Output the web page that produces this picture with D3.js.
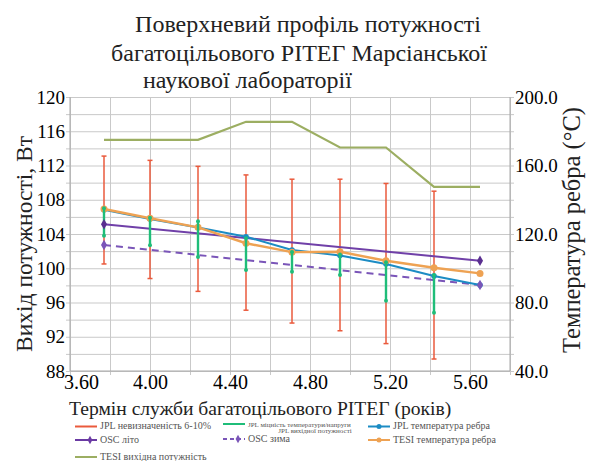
<!DOCTYPE html>
<html>
<head>
<meta charset="utf-8">
<script src="https://cdn.jsdelivr.net/npm/d3@7"></script>
<style>
  body { margin: 0; background: #fff; }
</style>
</head>
<body>
<svg id="chart"></svg>
<script>
// years on the x axis (service life)
const years = [3.77, 4.00, 4.24, 4.48, 4.71, 4.95, 5.18, 5.42, 5.65];

// JPL uncertainty 6-10% (power, W) - red bars
const jplUncLow  = [100.5, 98.8, 97.3, 95.1, 93.6, 92.7, 91.2, 89.4];
const jplUncHigh = [113.1, 112.6, 111.9, 110.9, 110.4, 110.4, 109.9, 109.0];

// JPL temperature/load sensitivity (power, W) - green bars
const jplSensLow  = [103.8, 102.7, 101.3, 99.8, 99.6, 99.2, 96.2, 94.8];
const jplSensHigh = [107.0, 105.9, 105.5, 103.5, 101.9, 101.6, 100.7, 99.2];

// fin temperatures (°C, right axis)
const jplFinTemp  = [134.2, 128.8, 123.8, 118.4, 110.7, 107.5, 102.5, 95.5, 90.2];
const tesiFinTemp = [134.6, 129.2, 123.9, 114.6, 109.4, 109.6, 104.4, 100.3, 97.0];
const oscSummerYears = [3.77, 5.65];
const oscSummer = [125.7, 104.4];
const oscWinterYears = [3.77, 5.65];
const oscWinter = [113.6, 90.2];

// TESI output power (W, left axis)
const tesiPower = [115.0, 115.0, 115.0, 117.1, 117.1, 114.1, 114.1, 109.5, 109.5];

// tick labels
const xTicks = [3.6, 4.0, 4.4, 4.8, 5.2, 5.6];
const yLeftTicks = [88, 92, 96, 100, 104, 108, 112, 116, 120];
const yRightTicks = [40, 80, 120, 160, 200];

const titleLines = ["Поверхневий профіль потужності", "багатоцільового  РІТЕГ Марсіанської", "наукової лабораторії"];

let w = 590;
let h = 461;
let chart;
let xScale, yLeft, yRight;
const serif = '"Liberation Serif"';

function initGraph() {
    chart = d3.select("#chart")
        .attr("width", w)
        .attr("height", h);

    xScale = d3.scaleLinear().domain([3.6, 5.8]).range([70, 510]);
    yLeft = d3.scaleLinear().domain([88, 120]).range([371, 97]);
    yRight = d3.scaleLinear().domain([40, 200]).range([371, 97]);

    //title
    const title = chart.append("g").attr("font-size", "24px");
    title.append("text").attr("x", 308).attr("y", 32).attr("text-anchor", "middle").text(titleLines[0]);
    title.append("text").attr("x", 299).attr("y", 61).attr("text-anchor", "middle").text(titleLines[1]);
    title.append("text").attr("x", 143).attr("y", 88).attr("text-anchor", "start").text(titleLines[2]);

    //grid lines
    const gridY = chart.append("g")
        .attr("transform", "translate(70,0)")
        .call(d3.axisLeft(yLeft).tickValues(d3.range(88, 121, 2)).tickSize(-444).tickFormat(""));
    gridY.selectAll(".tick line").attr("x1", -4).attr("x2", 444).attr("stroke", "#c9c9c9");
    gridY.select(".domain").remove();

    const gridX = chart.append("g")
        .attr("transform", "translate(0,371)")
        .call(d3.axisBottom(xScale).tickValues(d3.range(0, 12).map(i => 3.6 + i * 0.2)).tickSize(-274).tickFormat(""));
    gridX.selectAll(".tick line").attr("y1", 4).attr("y2", -274).attr("stroke", "#c9c9c9");
    gridX.select(".domain").remove();

    //axis lines
    chart.append("line").attr("x1", 70).attr("x2", 70).attr("y1", 97).attr("y2", 371).attr("stroke", "#a8a8a8");
    chart.append("line").attr("x1", 510).attr("x2", 510).attr("y1", 97).attr("y2", 371).attr("stroke", "#a8a8a8");
    chart.append("line").attr("x1", 70).attr("x2", 510).attr("y1", 371).attr("y2", 371).attr("stroke", "#a8a8a8");

    //tick labels
    const leftAxis = chart.append("g")
        .attr("transform", "translate(70,0)")
        .call(d3.axisLeft(yLeft).tickValues(yLeftTicks).tickSize(0).tickPadding(5).tickFormat(d3.format("d")));
    leftAxis.attr("font-size", "19px");
    leftAxis.select(".domain").remove();

    const rightAxis = chart.append("g")
        .attr("transform", "translate(510,0)")
        .call(d3.axisRight(yRight).tickValues(yRightTicks).tickSize(0).tickPadding(5).tickFormat(d3.format(".1f")));
    rightAxis.attr("font-size", "19px");
    rightAxis.select(".domain").remove();

    const bottomAxis = chart.append("g")
        .attr("transform", "translate(0,371)")
        .call(d3.axisBottom(xScale).tickValues(xTicks).tickSize(0).tickPadding(4).tickFormat(d3.format(".2f")));
    bottomAxis.attr("font-size", "20px");
    bottomAxis.select(".domain").remove();
    bottomAxis.selectAll("text").attr("dx", (d, i) => i === 0 ? 11 : 0);

    //axis titles
    chart.append("text")
        .attr("transform", "translate(32,244) rotate(-90)")
        .attr("text-anchor", "middle").attr("font-size", "23.5px")
        .text("Вихід потужності, Вт");
    chart.append("text")
        .attr("transform", "translate(580,230) rotate(-90)")
        .attr("text-anchor", "middle").attr("font-size", "24.5px")
        .text("Температура ребра (°С)");
    chart.append("text")
        .attr("x", 69).attr("y", 415)
        .attr("font-size", "19.6px")
        .text("Термін служби багатоцільового РІТЕГ (років)");

    //TESI output power
    const lineLeft = d3.line().x((d) => xScale(d[0])).y((d) => yLeft(d[1]));
    const lineRight = d3.line().x((d) => xScale(d[0])).y((d) => yRight(d[1]));

    chart.append("path")
        .datum(d3.zip(years, tesiPower))
        .attr("d", lineLeft)
        .attr("fill", "none").attr("stroke", "#9cae62").attr("stroke-width", 2.2);

    //red uncertainty bars
    const red = chart.append("g").attr("stroke", "#ea5a3c").attr("stroke-width", 1.5);
    red.selectAll("line.bar").data(jplUncLow).enter().append("line")
        .attr("x1", (d, i) => xScale(years[i])).attr("x2", (d, i) => xScale(years[i]))
        .attr("y1", (d) => yLeft(d)).attr("y2", (d, i) => yLeft(jplUncHigh[i]));
    red.selectAll("line.lo").data(jplUncLow).enter().append("line")
        .attr("x1", (d, i) => xScale(years[i]) - 2.5).attr("x2", (d, i) => xScale(years[i]) + 2.5)
        .attr("y1", (d) => yLeft(d)).attr("y2", (d) => yLeft(d));
    red.selectAll("line.hi").data(jplUncHigh).enter().append("line")
        .attr("x1", (d, i) => xScale(years[i]) - 2.5).attr("x2", (d, i) => xScale(years[i]) + 2.5)
        .attr("y1", (d) => yLeft(d)).attr("y2", (d) => yLeft(d));

    //OSC summer / winter
    chart.append("path")
        .datum(d3.zip(oscSummerYears, oscSummer))
        .attr("d", lineRight)
        .attr("fill", "none").attr("stroke", "#7040a8").attr("stroke-width", 2);
    chart.append("path")
        .datum(d3.zip(oscWinterYears, oscWinter))
        .attr("d", lineRight)
        .attr("fill", "none").attr("stroke", "#7a55b8").attr("stroke-width", 2)
        .attr("stroke-dasharray", "7,5");

    //JPL fin temperature
    chart.append("path")
        .datum(d3.zip(years, jplFinTemp))
        .attr("d", lineRight)
        .attr("fill", "none").attr("stroke", "#1c8cc4").attr("stroke-width", 2);
    chart.append("g").selectAll("circle").data(jplFinTemp).enter().append("circle")
        .attr("cx", (d, i) => xScale(years[i])).attr("cy", (d) => yRight(d))
        .attr("r", 2.8).attr("fill", "#1c8cc4");

    //TESI fin temperature
    chart.append("path")
        .datum(d3.zip(years, tesiFinTemp))
        .attr("d", lineRight)
        .attr("fill", "none").attr("stroke", "#eea253").attr("stroke-width", 2.4);
    chart.append("g").selectAll("circle").data(tesiFinTemp).enter().append("circle")
        .attr("cx", (d, i) => xScale(years[i])).attr("cy", (d) => yRight(d))
        .attr("r", 3.5).attr("fill", "#eea253");

    //green sensitivity bars
    const green = chart.append("g");
    green.selectAll("line").data(jplSensLow).enter().append("line")
        .attr("x1", (d, i) => xScale(years[i])).attr("x2", (d, i) => xScale(years[i]))
        .attr("y1", (d) => yLeft(d)).attr("y2", (d, i) => yLeft(jplSensHigh[i]))
        .attr("stroke", "#1fbd79").attr("stroke-width", 2.4);
    green.selectAll("circle.lo").data(jplSensLow).enter().append("circle")
        .attr("cx", (d, i) => xScale(years[i])).attr("cy", (d) => yLeft(d))
        .attr("r", 2).attr("fill", "#1fbd79");
    green.selectAll("circle.hi").data(jplSensHigh).enter().append("circle")
        .attr("cx", (d, i) => xScale(years[i])).attr("cy", (d) => yLeft(d))
        .attr("r", 2).attr("fill", "#1fbd79");

    //OSC end markers (diamonds)
    const diamond = d3.symbol().type(d3.symbolDiamond).size(32);
    chart.append("g").selectAll("path").data(oscSummer).enter().append("path")
        .attr("d", diamond)
        .attr("transform", (d, i) => `translate(${xScale(oscSummerYears[i])},${yRight(d)})`)
        .attr("fill", "#5a2f90");
    chart.append("g").selectAll("path").data(oscWinter).enter().append("path")
        .attr("d", diamond)
        .attr("transform", (d, i) => `translate(${xScale(oscWinterYears[i])},${yRight(d)})`)
        .attr("fill", "#7a55b8");

    //legend
    const legend = chart.append("g").attr("font-size", "10px");
    const items = [
        {x: 75, y: 426.5, color: "#ea5a3c", label: "JPL невизначеність 6-10%"},
        {x: 223, y: 424, color: "#1fbd79", label: "JPL міцність температури/напруги", small: true},
        {x: 368, y: 426.5, color: "#1c8cc4", label: "JPL температура ребра", marker: "circle"},
        {x: 75, y: 440, color: "#6a3aa3", label: "OSC літо", marker: "diamond"},
        {x: 223, y: 439, color: "#7a55b8", label: "OSC зима", marker: "diamond", dash: true},
        {x: 368, y: 440, color: "#eea253", label: "TESI температура ребра", marker: "circle"},
        {x: 75, y: 457, color: "#9cae62", label: "TESI вихідна потужність"}
    ];
    items.forEach((it) => {
        const g = legend.append("g");
        g.append("line").attr("x1", it.x).attr("x2", it.x + 22).attr("y1", it.y).attr("y2", it.y)
            .attr("stroke", it.color).attr("stroke-width", 2)
            .attr("stroke-dasharray", it.dash ? "4,3" : null);
        if (it.marker === "circle") {
            g.append("circle").attr("cx", it.x + 11).attr("cy", it.y).attr("r", 2.5).attr("fill", it.color);
        } else if (it.marker === "diamond") {
            g.append("path").attr("d", d3.symbol().type(d3.symbolDiamond).size(20))
                .attr("transform", `translate(${it.x + 15},${it.y})`).attr("fill", it.color);
        }
        g.append("text").attr("x", it.x + 25).attr("y", it.y + 2.5)
            .attr("font-size", it.small ? "7px" : null)
            .attr("fill", "#555")
            .text(it.label);
    });
    legend.append("text").attr("x", 315).attr("y", 433).attr("text-anchor", "middle")
        .attr("font-size", "7px").attr("fill", "#555")
        .text("JPL вихідної потужності");

    // one serif face for every label
    chart.selectAll("text").style("font-family", serif);
    chart.selectAll("text:not([fill])").style("fill", "#222");
}

initGraph();
</script>
</body>
</html>
